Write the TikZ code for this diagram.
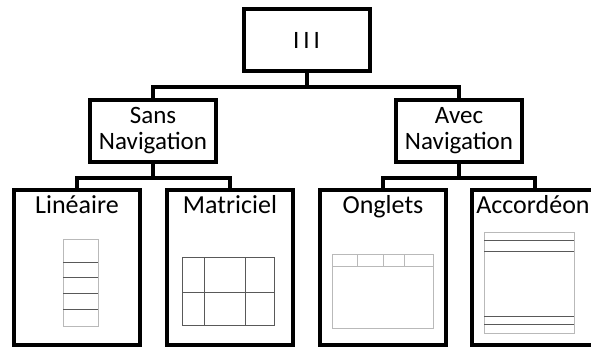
\documentclass[tikz,border=0pt]{standalone}
\usepackage{fontspec}
\setmainfont{Carlito}
\usetikzlibrary{positioning}
\tikzset{
    level box/.style = {
        draw,
        line width=4pt,
        minimum width=126pt,
        minimum height=62pt,
        inner sep=0pt,
        outer sep=0pt,
        align=center,
        font=\fontsize{25}{26}\selectfont,
        },
    leaf box/.style = {
        draw,
        line width=4pt,
        minimum width=126pt,
        minimum height=155pt,
        inner sep=0pt,
        outer sep=0pt,
        },
    leaf title/.style = {
        anchor=base,
        inner sep=0pt,
        font=\fontsize{26}{28}\selectfont,
        },
    link/.style = {
        line width=4pt,
        },
    sketch/.style = {
        draw=gray!55,
        line width=1pt,
        },
    sketch dark/.style = {
        draw=black!65,
        line width=1pt,
        },
}

\begin{document}
\begin{tikzpicture}[x=1pt, y=-1pt]
            \useasboundingbox (0,0) rectangle (591,347);
            \clip (0,0) rectangle (591,347);

            \node[level box] (root) at (306.5,40) {I\hspace{4pt}I\hspace{4pt}I};
            \node[level box] (sans) at (153,131) {Sans\\Navigation};
            \node[level box] (avec) at (459,131) {Avec\\Navigation};

            \node[leaf box] (lin) at (77,267.5) {};
            \node[leaf box] (mat) at (230,267.5) {};
            \node[leaf box] (ong) at (383,267.5) {};
            \node[leaf box] (acc) at (535,267.5) {};

            \node[leaf title] (lin title) at (77,214) {Linéaire};
            \node[leaf title] (mat title) at (230,214) {Matriciel};
            \node[leaf title] (ong title) at (383,214) {Onglets};
            \node[leaf title] (acc title) at (533,214) {Accordéon};

            % tree links
            \draw[link] (root.south) -- ++(0,16);
            \draw[link] (sans.north) -- ++(0,-13) -| (avec.north);
            \draw[link] (sans.south) -- ++(0,16);
            \draw[link] (lin.north) -- ++(0,-12) -| (mat.north);
            \draw[link] (avec.south) -- ++(0,16);
            \draw[link] (ong.north) -- ++(0,-12) -| (acc.north);

            % lineaire
            \draw[sketch] (63,240) rectangle (98,326);
            \foreach \y in {262,277,293,309}
                \draw[sketch dark] (63,\y) -- (98,\y);

            % matriciel
            \draw[sketch dark] (182,257) rectangle (274,325);
            \draw[sketch dark] (182,292) -- (274,292);
            \foreach \x in {204,245}
                \draw[sketch dark] (\x,257) -- (\x,325);

            % onglets
            \draw[sketch] (332,254) rectangle (433,328);
            \draw[sketch] (332,266) -- (433,266);
            \foreach \x in {357,383,404}
                \draw[sketch] (\x,254) -- (\x,266);

            % accordeon
            \draw[sketch] (484,233) rectangle (574,333);
            \foreach \y in {241,251,316,324}
                \draw[sketch dark] (484,\y) -- (574,\y);
        \end{tikzpicture}
\end{document}
